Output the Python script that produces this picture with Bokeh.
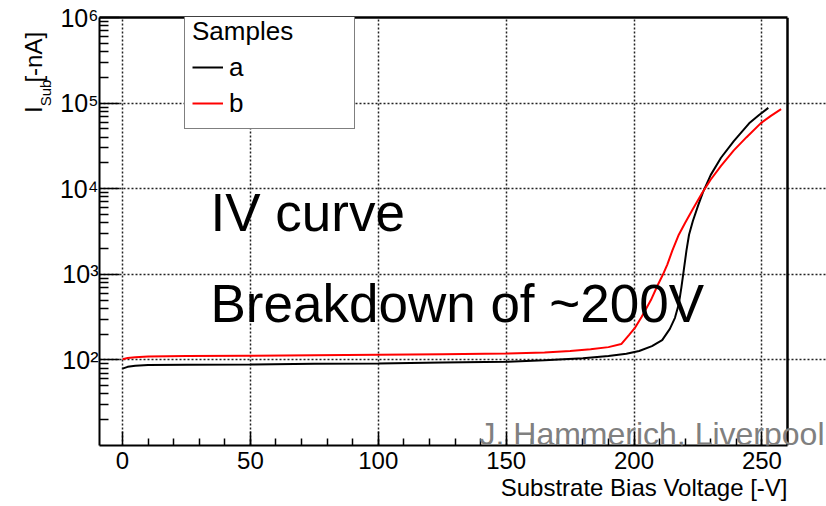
import math
from bokeh.plotting import figure
from bokeh.layouts import row
from bokeh.models import (Range1d, FixedTicker, CustomJSTickFormatter, Label, Title, Grid,
                          LinearAxis)
from bokeh.embed import file_html
from bokeh.resources import INLINE

# ---- data ----
voltage_a = [0, 2, 5, 10, 25, 50, 75, 100, 125, 150, 165, 180, 190, 197, 202, 207, 211,
             214, 216, 217.5, 218.5, 219.5, 220.5, 221.5, 223, 225, 227, 230, 234, 239,
             245, 249, 252.5]
current_a = [79, 83, 85.5, 87, 88, 88.5, 90, 91, 93, 95, 99, 104.5, 111, 118, 127, 145, 170,
             230, 310, 450, 700, 1150, 1900, 2900, 4200, 6300, 9200, 14500, 23000, 36000,
             58000, 73000, 88000]

voltage_b = [0, 2, 5, 10, 25, 50, 75, 100, 125, 150, 165, 175, 183, 190, 195, 198, 200.5,
             203, 206.6, 209, 211.2, 213, 215, 217.5, 220, 223, 226.5, 230, 234, 239, 244,
             249.5, 253.5, 257.5]
current_b = [102, 105, 107.5, 109.5, 111, 112, 113.5, 115, 116.5, 118.5, 122, 127, 133, 141,
             153, 195, 240, 320, 500, 720, 980, 1300, 1900, 2900, 4000, 5800, 8800, 12800,
             18500, 28000, 40000, 58000, 71000, 85000]

series_names = ["a", "b"]
legend_title = "Samples"

x_ticks = [0, 50, 100, 150, 200, 250]
x_minor_ticks = [v for v in range(10, 251, 10)]
y_ticks = [1e2, 1e3, 1e4, 1e5, 1e6]
y_tick_labels = ["10\u00b2", "10\u00b3", "10\u2074", "10\u2075", "10\u2076"]
y_minor_ticks = [k * 10 ** d for d in range(1, 6) for k in range(2, 10)]

x_title = "Substrate Bias Voltage [-V]"
y_title_main = "I"
y_title_sub = "Sub"
y_title_unit = "[-nA]"
note_1 = "IV curve"
note_2 = "Breakdown of ~200V"
credit = "J. Hammerich, Liverpool"

# ---- layout ----
W, H = 826, 506
LEFT_W = 54                       # narrow strip holding the y title
L, R, T, B = 99, 787, 17, 445     # visible plot box in page pixels
X0, X1 = -9, 260
Y0, Y1 = 10, 1e6
FONT = "Liberation Sans"

# frame runs to the page's right edge so the credit line can pass the box
X1_frame = X1 + (W - R) * (X1 - X0) / (R - L)

p = figure(width=W - LEFT_W, height=H, x_range=Range1d(X0, X1_frame),
           y_range=Range1d(Y0, Y1), y_axis_type="log", output_backend="svg",
           toolbar_location=None, min_border_left=L - LEFT_W, min_border_right=0,
           min_border_top=T, min_border_bottom=H - B)
p.title.visible = False
p.background_fill_color = "white"
p.border_fill_color = "white"
p.outline_line_color = None


def xd(px):
    return X0 + (px - L) * (X1 - X0) / (R - L)


def yd(py):
    ly0, ly1 = math.log10(Y0), math.log10(Y1)
    return 10 ** (ly1 - (py - T) * (ly1 - ly0) / (B - T))


# axes
xa = p.xaxis[0]
xa.bounds = (X0, X1)
xa.ticker = FixedTicker(ticks=x_ticks, minor_ticks=x_minor_ticks)
xa.axis_line_width = 2
xa.major_tick_in = 14
xa.major_tick_out = 0
xa.minor_tick_in = 7
xa.minor_tick_out = 0
xa.major_tick_line_width = 1.5
xa.minor_tick_line_width = 1.5
xa.major_label_text_font = FONT
xa.major_label_text_font_size = "24px"
xa.major_label_text_color = "black"
xa.major_label_standoff = 6

ya = p.yaxis[0]
ya.ticker = FixedTicker(ticks=y_ticks, minor_ticks=y_minor_ticks)
ya.formatter = CustomJSTickFormatter(
    args=dict(tvals=y_ticks, tlabels=y_tick_labels),
    code="""
    const i = tvals.findIndex(t => Math.abs(Math.log10(t) - Math.log10(tick)) < 1e-6);
    return i >= 0 ? tlabels[i] : '';
    """)
ya.axis_line_width = 2
ya.major_tick_in = 20
ya.major_tick_out = 0
ya.minor_tick_in = 9
ya.minor_tick_out = 0
ya.major_tick_line_width = 1.5
ya.minor_tick_line_width = 1.5
ya.major_label_text_font = FONT
ya.major_label_text_font_size = "25px"
ya.major_label_text_color = "black"
ya.major_label_standoff = 1

for g in (p.xgrid[0], p.ygrid[0]):
    g.grid_line_color = "#222222"
    g.grid_line_dash = "2 2"
    g.grid_line_width = 1.5

# top border of the plot box: a bare axis above, limited to the box width
top_axis = LinearAxis(bounds=(X0, X1), ticker=FixedTicker(ticks=[]),
                      axis_line_color="black", axis_line_width=2.5,
                      major_tick_in=0, major_tick_out=0, minor_tick_in=0, minor_tick_out=0,
                      major_label_text_font_size="1px", major_label_standoff=0)
p.add_layout(top_axis, "above")

# right border of the plot box, drawn as a solid guide line
p.add_layout(Grid(dimension=0, ticker=FixedTicker(ticks=[X1]), bounds=(X0, X1_frame),
                  grid_line_color="black", grid_line_width=2.5))

# x title, right-aligned to the plot box
xt = Title(text=x_title, align="right", offset=W - R, text_font=FONT,
           text_font_size="24px", text_font_style="normal", text_color="black")
if "standoff" in Title.properties():
    xt.standoff = 0
p.add_layout(xt, "below")

# curves
p.line(voltage_a, current_a, line_color="black", line_width=2, legend_label=series_names[0])
p.line(voltage_b, current_b, line_color="#ff0000", line_width=2, legend_label=series_names[1])

lg = p.legend[0]
lg.title = legend_title
lg.title_text_font = FONT
lg.title_text_font_size = "26px"
lg.title_text_font_style = "normal"
lg.title_text_color = "black"
lg.title_standoff = 2
lg.label_text_font = FONT
lg.label_text_font_size = "26px"
lg.label_text_color = "black"
lg.label_height = 36
lg.glyph_height = 20
lg.glyph_width = 31
lg.label_standoff = 6
lg.label_width = 118
lg.spacing = 0
lg.padding = 7
lg.border_line_color = "black"
lg.border_line_width = 1.5
lg.background_fill_color = "white"
lg.background_fill_alpha = 1
lg.location = (184 - L, B - 129)


def add_text(fig, text, x, y, size, color="black", align="left", angle=0.0):
    fig.add_layout(Label(x=x, y=y, text=text, text_font=FONT,
                         text_font_size=f"{size}px", text_color=color,
                         text_align=align, text_baseline="alphabetic", angle=angle))


add_text(p, note_1, xd(210), yd(212), 53)
add_text(p, note_2, xd(210), yd(303), 53)
add_text(p, credit, xd(479), yd(433), 32, color="#808080")

# narrow strip on the left for the y title (I with subscript Sub, then unit)
q = figure(width=LEFT_W, height=H, x_range=Range1d(0, LEFT_W), y_range=Range1d(0, H),
           output_backend="svg", toolbar_location=None, min_border=0,
           x_axis_location=None, y_axis_location=None)
q.title.visible = False
q.grid.visible = False
q.outline_line_color = None
q.background_fill_color = "white"
q.border_fill_color = "white"
add_text(q, y_title_main, 33, H - 113, 24, angle=math.pi / 2)
add_text(q, y_title_sub, 45, H - 105, 15, angle=math.pi / 2)
add_text(q, y_title_unit, 33, H - 17, 24, align="right", angle=math.pi / 2)

layout = row(q, p, spacing=0)
open("out.html", "w").write(file_html(layout, INLINE))
